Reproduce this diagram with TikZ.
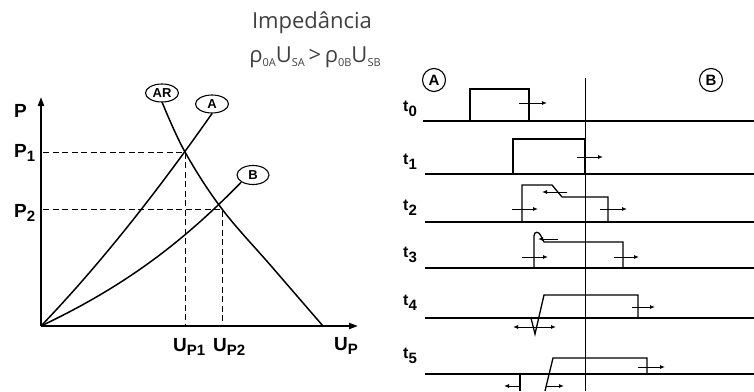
\documentclass[tikz,border=0pt]{standalone}
\usepackage{fontspec}
\setmainfont{Liberation Sans}
\newfontfamily\titlefont{Open Sans}
\usetikzlibrary{arrows.meta,shapes.geometric}
\newcommand{\lsub}[2][-4pt]{\raisebox{#1}{\fontsize{15}{15}\selectfont #2}}
\newcommand{\tsub}[1]{\raisebox{-4pt}{\fontsize{11}{11}\selectfont #1}}
\begin{document}
\begin{tikzpicture}[x=1pt,y=-1pt,
  axis/.style={line width=2pt,-{Triangle[length=9pt,width=6pt]}},
  curve/.style={line width=1.5pt},
  guide/.style={line width=1pt,dash pattern=on 6pt off 3.5pt},
  base/.style={line width=2.4pt},
  pulse/.style={line width=1.3pt,line join=miter},
  small/.style={line width=1pt,-{Latex[length=5pt,width=4pt]}},
  tag/.style={draw,ellipse,line width=1.1pt,inner sep=0pt,minimum width=33pt,minimum height=18pt,font=\bfseries\fontsize{13}{13}\selectfont},
  ctag/.style={draw,circle,line width=1.1pt,inner sep=0pt,minimum size=23pt,font=\bfseries\fontsize{15}{15}\selectfont},
  lab/.style={anchor=base west,inner sep=0pt,font=\bfseries\fontsize{19}{19}\selectfont},
  tlab/.style={anchor=base west,inner sep=0pt,font=\bfseries\fontsize{16}{16}\selectfont},
  title/.style={text=black!75,font=\titlefont\fontsize{22}{22}\selectfont}
]
\useasboundingbox (0,0) rectangle (754,391);

% ---------- title ----------
\node[title] (t1) at (312,23) {Impedância};
\node[title,anchor=base] (t2) at (315,62) {ρ\tsub{0A}U\tsub{SA}\,>\,ρ\tsub{0B}U\tsub{SB}};

% ---------- left graph ----------
\coordinate (O) at (41,326);
\coordinate (Ytop) at (41,97);
\coordinate (Xend) at (358,326);
\draw[axis] (O) -- (Ytop);
\draw[axis] (O) -- (Xend);

\coordinate (I1) at (185,152);
\coordinate (I2) at (222,209);
\coordinate (P1y) at (43,152);
\coordinate (P2y) at (43,209);
\coordinate (U1) at (185,325);
\coordinate (U2) at (222,325);
\draw[guide] (P1y) -- (I1) -- (U1);
\draw[guide] (P2y) -- (I2) -- (U2);

\node[tag] (AR) at (162,93) {AR};
\node[tag] (A) at (212,104) {A};
\node[tag,minimum height=19pt,minimum width=32pt] (B) at (253,175) {B};

\draw[curve] (O) .. controls (111,253) and (171,172) .. (A.south);
\draw[curve] (O) .. controls (121,288) and (179,246) .. (B.south west);
\draw[curve] plot[smooth,tension=0.6] coordinates {(162,102) (185,152) (222,209) (272,267) (323,326)};

\node[lab] (Pl) at (14,117) {P};
\node[lab] (P1l) at (14,157) {P\lsub{1}};
\node[lab] (P2l) at (14,217) {P\lsub{2}};
\node[lab] (U1l) at (173,351) {U\lsub{P1}};
\node[lab] (U2l) at (213,351) {U\lsub{P2}};
\node[lab] (Upl) at (334,350) {U\lsub{P}};

% ---------- right diagram ----------
\node[ctag] (cA) at (434,80) {A};
\node[ctag] (cB) at (711,80) {B};

\coordinate (vt) at (585,78);
\coordinate (vb) at (585,391);
\draw[line width=1pt] (vt) -- (vb);

% baselines
\foreach \n/\y/\x in {0/121/423, 1/174/425, 2/222/425, 3/268/425, 4/318/425, 5/374/425}{
  \coordinate (bs\n) at (\x,\y);
  \coordinate (be\n) at (754,\y);
  \draw[base] (bs\n) -- (be\n);
}

% time labels
\node[tlab] (l0) at (403,111) {t\lsub[-5pt]{0}};
\node[tlab] (l1) at (403,164) {t\lsub[-5pt]{1}};
\node[tlab] (l2) at (403,210) {t\lsub[-5pt]{2}};
\node[tlab] (l3) at (403,257) {t\lsub[-5pt]{3}};
\node[tlab] (l4) at (403,305) {t\lsub[-5pt]{4}};
\node[tlab] (l5) at (403,358) {t\lsub[-5pt]{5}};

% t0
\draw[pulse] (470,121) -- (470,89) -- (529,89) -- (529,121);
\draw[small] (519,103) -- (547,103);
% t1
\draw[pulse] (513,174) -- (513,139) -- (585,139) -- (585,174);
\draw[small] (577,157) -- (603,157);
% t2
\draw[pulse] (522,222) -- (522,185) -- (552,185) -- (562,197) -- (608,197) -- (608,222);
\draw[small] (567,192) -- (542,192);
\draw[small] (512,209) -- (538,209);
\draw[small] (600,209) -- (627,209);
% t3
\draw[pulse] (534,268) -- (534,236) .. controls (534,231) and (539,231) .. (541,236) -- (544,242) -- (623,242) -- (623,268);
\draw[small] (558,239) -- (538,239);
\draw[small] (522,257) -- (548,257);
\draw[small] (614,257) -- (639,257);
% t4
\draw[pulse] (531,318) -- (535,334) -- (544,295) -- (638,295) -- (638,318);
\draw[small] (535,327) -- (513,327);
\draw[small] (535,327) -- (556,327);
\draw[small] (632,307) -- (655,307);
% t5
\draw[pulse] (545,391) -- (553,358) -- (647,358) -- (647,374);
\draw[pulse] (520,374) -- (520,391);
\draw[small] (638,367) -- (665,367);
\draw[small] (520,386) -- (504,386);
\draw[small] (546,386) -- (564,386);
\end{tikzpicture}
\end{document}
